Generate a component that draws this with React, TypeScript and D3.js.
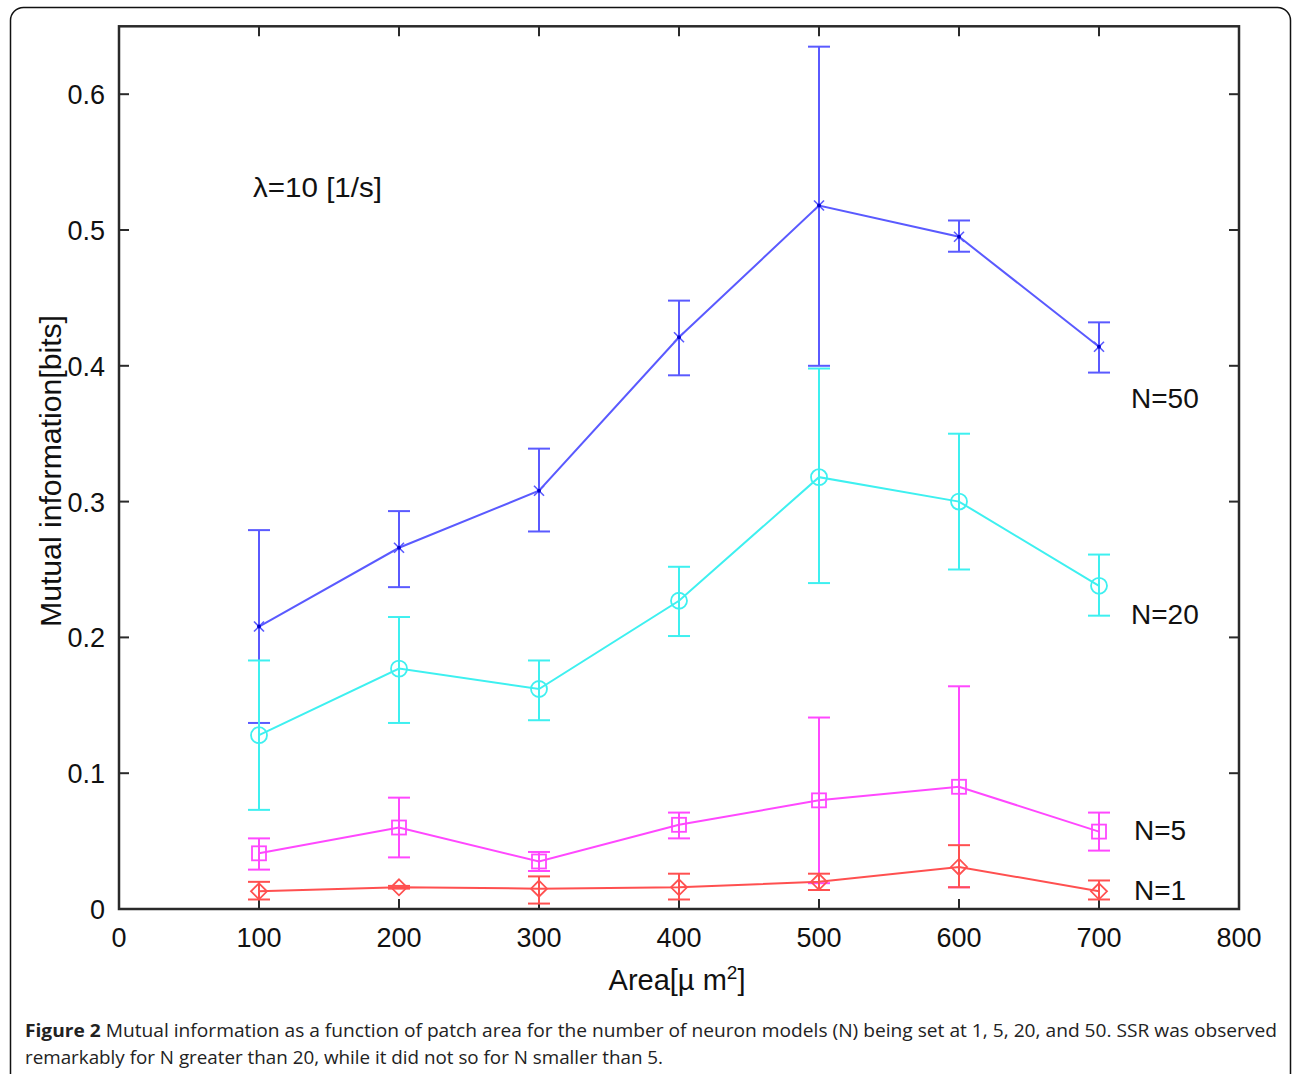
import React from "react";
import * as d3 from "d3";

const areas = [100, 200, 300, 400, 500, 600, 700];
const xTicks = [0, 100, 200, 300, 400, 500, 600, 700, 800];
const yTicks = [0, 0.1, 0.2, 0.3, 0.4, 0.5, 0.6];

const n50Mean = [0.208, 0.266, 0.308, 0.421, 0.518, 0.495, 0.414];
const n50Lo = [0.137, 0.237, 0.278, 0.393, 0.4, 0.484, 0.395];
const n50Hi = [0.279, 0.293, 0.339, 0.448, 0.635, 0.507, 0.432];

const n20Mean = [0.128, 0.177, 0.162, 0.227, 0.318, 0.3, 0.238];
const n20Lo = [0.073, 0.137, 0.139, 0.201, 0.24, 0.25, 0.216];
const n20Hi = [0.183, 0.215, 0.183, 0.252, 0.398, 0.35, 0.261];

const n5Mean = [0.041, 0.06, 0.035, 0.062, 0.08, 0.09, 0.057];
const n5Lo = [0.029, 0.038, 0.028, 0.052, 0.019, 0.016, 0.043];
const n5Hi = [0.052, 0.082, 0.042, 0.071, 0.141, 0.164, 0.071];

const n1Mean = [0.013, 0.016, 0.015, 0.016, 0.02, 0.031, 0.013];
const n1Lo = [0.007, 0.015, 0.004, 0.007, 0.014, 0.016, 0.007];
const n1Hi = [0.02, 0.017, 0.024, 0.026, 0.026, 0.047, 0.021];

const seriesNames = ["N=50", "N=20", "N=5", "N=1"];
const labelValues = [0.376, 0.217, 0.058, 0.014];

const series = [
  { name: seriesNames[0], mean: n50Mean, lo: n50Lo, hi: n50Hi, color: "#5a5aff", marker: "x", labelY: labelValues[0] },
  { name: seriesNames[1], mean: n20Mean, lo: n20Lo, hi: n20Hi, color: "#3ef0f0", marker: "o", labelY: labelValues[1] },
  { name: seriesNames[2], mean: n5Mean, lo: n5Lo, hi: n5Hi, color: "#ff48ff", marker: "s", labelY: labelValues[2] },
  { name: seriesNames[3], mean: n1Mean, lo: n1Lo, hi: n1Hi, color: "#ff5050", marker: "d", labelY: labelValues[3] },
];

const W = 1293;
const H = 1074;
const x = d3.scaleLinear().domain([0, 800]).range([119, 1239]);
const y = d3.scaleLinear().domain([0, 0.65]).range([909, 26.3]);

const axisColor = "#2a2a2a";
const font = "'Liberation Sans', Arial, sans-serif";

function Marker({ type, cx, cy, color }: { type: string; cx: number; cy: number; color: string }) {
  if (type === "x") {
    const r = 5;
    return (
      <g stroke={color} strokeWidth={1.6}>
        <line x1={cx - r} y1={cy - r} x2={cx + r} y2={cy + r} />
        <line x1={cx - r} y1={cy + r} x2={cx + r} y2={cy - r} />
        <circle cx={cx} cy={cy} r={2} fill="#0000cc" stroke="none" />
      </g>
    );
  }
  if (type === "o") {
    return <circle cx={cx} cy={cy} r={8} fill="none" stroke={color} strokeWidth={1.8} />;
  }
  if (type === "s") {
    return <rect x={cx - 7} y={cy - 7} width={14} height={14} fill="none" stroke={color} strokeWidth={1.8} />;
  }
  const r = 8;
  return (
    <path
      d={`M${cx},${cy - r}L${cx + r},${cy}L${cx},${cy + r}L${cx - r},${cy}Z`}
      fill="none"
      stroke={color}
      strokeWidth={1.8}
    />
  );
}

export default function App() {
  const line = d3
    .line<number>()
    .x((_, i) => x(areas[i]))
    .y((d) => y(d));
  const cap = 11;
  const tickLen = 10;

  return (
    <svg
      width={W}
      height={H}
      style={{ position: "absolute", left: 0, top: 0, display: "block", background: "#fff" }}
    >
      <rect x={0} y={0} width={W} height={H} fill="#fff" />
      <rect x={10.5} y={7.5} width={1280} height={1080} rx={13} ry={13} fill="none" stroke="#111" strokeWidth={1.5} />

      <rect
        x={x(0)}
        y={y(0.65)}
        width={x(800) - x(0)}
        height={y(0) - y(0.65)}
        fill="none"
        stroke={axisColor}
        strokeWidth={2.5}
      />
      {xTicks.map((t) => (
        <g key={"xt" + t}>
          <line x1={x(t)} x2={x(t)} y1={y(0)} y2={y(0) - tickLen} stroke={axisColor} strokeWidth={2} />
          <line x1={x(t)} x2={x(t)} y1={y(0.65)} y2={y(0.65) + tickLen} stroke={axisColor} strokeWidth={2} />
          <text x={x(t)} y={947} textAnchor="middle" fontFamily={font} fontSize={27} fill="#111">
            {t}
          </text>
        </g>
      ))}
      {yTicks.map((t) => (
        <g key={"yt" + t}>
          <line x1={x(0)} x2={x(0) + tickLen} y1={y(t)} y2={y(t)} stroke={axisColor} strokeWidth={2} />
          <line x1={x(800)} x2={x(800) - tickLen} y1={y(t)} y2={y(t)} stroke={axisColor} strokeWidth={2} />
          <text x={105} y={y(t) + 10} textAnchor="end" fontFamily={font} fontSize={27} fill="#111">
            {t === 0 ? "0" : d3.format(".1f")(t)}
          </text>
        </g>
      ))}

      {series.map((s) => (
        <g key={s.name}>
          <path d={line(s.mean) || ""} fill="none" stroke={s.color} strokeWidth={2} />
          {areas.map((a, i) => (
            <g key={a} stroke={s.color} strokeWidth={2}>
              <line x1={x(a)} x2={x(a)} y1={y(s.lo[i])} y2={y(s.hi[i])} />
              <line x1={x(a) - cap} x2={x(a) + cap} y1={y(s.lo[i])} y2={y(s.lo[i])} />
              <line x1={x(a) - cap} x2={x(a) + cap} y1={y(s.hi[i])} y2={y(s.hi[i])} />
            </g>
          ))}
          {areas.map((a, i) => (
            <Marker key={"m" + a} type={s.marker} cx={x(a)} cy={y(s.mean[i])} color={s.color} />
          ))}
          <text x={s.name.length > 3 ? 1131 : 1134} y={y(s.labelY) + 10} fontFamily={font} fontSize={28} fill="#111">
            {s.name}
          </text>
        </g>
      ))}

      <text x={253} y={197} fontFamily={font} fontSize={28} fill="#111" textLength={129} lengthAdjust="spacingAndGlyphs">
        λ=10 [1/s]
      </text>

      <text x={677} y={990} textAnchor="middle" fontFamily={font} fontSize={29} fill="#111">
        Area[µ m<tspan dy={-11} fontSize={19}>2</tspan>
        <tspan dy={11}>]</tspan>
      </text>
      <text
        transform={`translate(61,471) rotate(-90)`}
        textAnchor="middle"
        fontFamily={font}
        fontSize={29}
        fill="#111"
        textLength={312}
        lengthAdjust="spacingAndGlyphs"
      >
        Mutual information[bits]
      </text>

      <text x={25} y={1037} fontFamily="'Open Sans', 'Noto Sans', sans-serif" fontSize={18} fill="#222" textLength={1252} lengthAdjust="spacingAndGlyphs">
        <tspan fontWeight="bold">Figure 2</tspan> Mutual information as a function of patch area for the number of neuron models (N) being set at 1, 5, 20, and 50. SSR was observed
      </text>
      <text x={25} y={1064} fontFamily="'Open Sans', 'Noto Sans', sans-serif" fontSize={18} fill="#222" textLength={638} lengthAdjust="spacingAndGlyphs">
        remarkably for N greater than 20, while it did not so for N smaller than 5.
      </text>
    </svg>
  );
}
